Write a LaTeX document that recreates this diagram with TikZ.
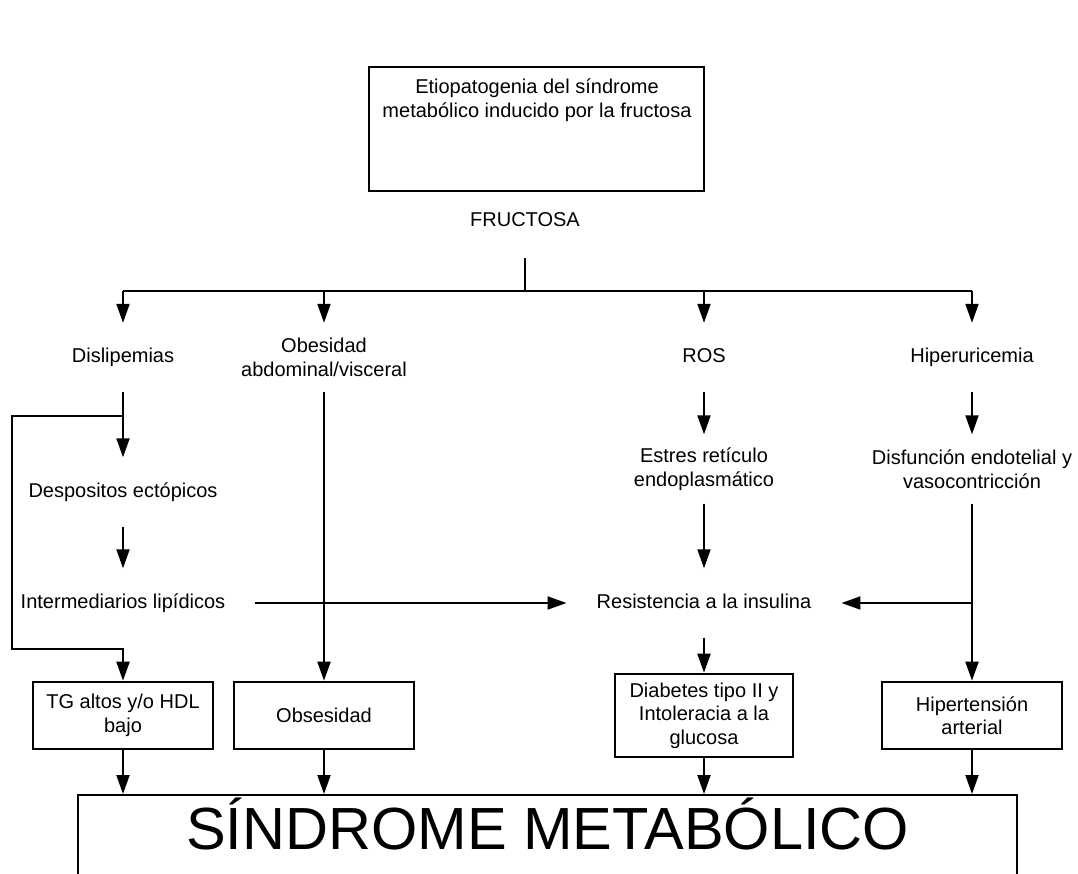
\documentclass[tikz,border=0pt]{standalone}
\usepackage{fontspec}
\setmainfont{Liberation Sans}
\usetikzlibrary{arrows.meta}
\begin{document}
\begin{tikzpicture}[x=1pt,y=-1pt,
  txt/.style={inner sep=0pt, inner xsep=30pt, minimum height=69pt, align=center, font=\fontsize{20}{23.5}\selectfont},
  box/.style={draw, line width=2.6pt, inner sep=0pt, minimum width=180pt, minimum height=67pt, align=center, font=\fontsize{20}{23.5}\selectfont},
  conn/.style={line width=2pt},
  arr/.style={line width=2pt, -{Triangle[length=19pt,width=13pt]}}]
\useasboundingbox (0,0) rectangle (1078,873);
\clip (0,0) rectangle (1078,873);
\fill[white] (0,0) rectangle (1078,873);
% title box
\node[draw, line width=2.4pt, minimum width=335pt, minimum height=124pt, inner sep=0pt] (topbox) at (536.5,129) {};
\node[align=center, inner sep=0pt, font=\fontsize{20}{24}\selectfont] (title) at (537,100) {Etiopatogenia del síndrome\\metabólico inducido por la fructosa};
\node[txt, minimum height=72pt] (fru) at (525,222) {FRUCTOSA\vphantom{p}};
% level 1
\node[txt] (disl) at (123,357.5) {Dislipemias};
\node[txt] (obab) at (324,357.5) {Obesidad\\abdominal/visceral};
\node[txt] (ros) at (704,357.5) {ROS\vphantom{p}};
\node[txt] (hiper) at (972,357.5) {Hiperuricemia};
% level 2
\node[txt] (desp) at (123,492) {Despositos ectópicos};
\node[txt] (estres) at (704,469) {Estres retículo\\endoplasmático};
\node[txt] (disf) at (972,469) {Disfunción endotelial y\\vasocontricción};
% level 3
\node[txt] (inter) at (123,603) {Intermediarios lipídicos};
\node[txt] (resis) at (704,603) {Resistencia a la insulina\vphantom{p}};
% boxes
\node[box] (tg) at (123,715.5) {TG altos y/o HDL\\bajo};
\node[box] (obes) at (324,715.5) {Obsesidad};
\node[box, minimum width=178pt, minimum height=83pt] (diab) at (704,715.5) {Diabetes tipo II y\\Intoleracia a la\\glucosa};
\node[box] (hta) at (972,715.5) {Hipertensión\\arterial};
% bottom box
\node[draw, line width=2pt, minimum width=939pt, minimum height=160pt, inner sep=0pt, anchor=north] (sm) at (547.5,794) {};
\node[inner sep=0pt, anchor=base, font=\fontsize{59.5}{62}\selectfont] (smt) at (547.5,849) {SÍNDROME METABÓLICO};
% connectors
\coordinate (jn) at (525,291);
\coordinate (hl) at (123,291);
\coordinate (hr) at (972,291);
\draw[conn] (fru.south) -- (jn);
\draw[conn] (hl) -- (hr);
\draw[arr] (hl) -- (disl.north);
\draw[arr] (obab.north |- hl) -- (obab.north);
\draw[arr] (ros.north |- hl) -- (ros.north);
\draw[arr] (hr) -- (hiper.north);
% dislipemias branch
\draw[arr] (disl.south) -- (desp.north);
\draw[arr] (desp.south) -- (inter.north);
\coordinate (lb) at (123,416);
\coordinate (lc1) at (12,416);
\coordinate (lc2) at (12,649);
\draw[arr] (lb) -- (lc1) -- (lc2) -| (tg.north);
% obesidad
\draw[arr] (obab.south) -- (obes.north);
% ROS branch
\draw[arr] (ros.south) -- (estres.north);
\draw[arr] (estres.south) -- (resis.north);
\draw[arr] (resis.south) -- (diab.north);
\draw[arr] (inter.east) -- (resis.west);
% hiperuricemia branch
\draw[arr] (hiper.south) -- (disf.north);
\draw[arr] (disf.south) -- (hta.north);
\draw[arr] (disf.south |- resis.east) -- (resis.east);
% to bottom
\draw[arr] (tg.south) -- (tg.south |- sm.north);
\draw[arr] (obes.south) -- (obes.south |- sm.north);
\draw[arr] (diab.south) -- (diab.south |- sm.north);
\draw[arr] (hta.south) -- (hta.south |- sm.north);
\end{tikzpicture}
\end{document}
